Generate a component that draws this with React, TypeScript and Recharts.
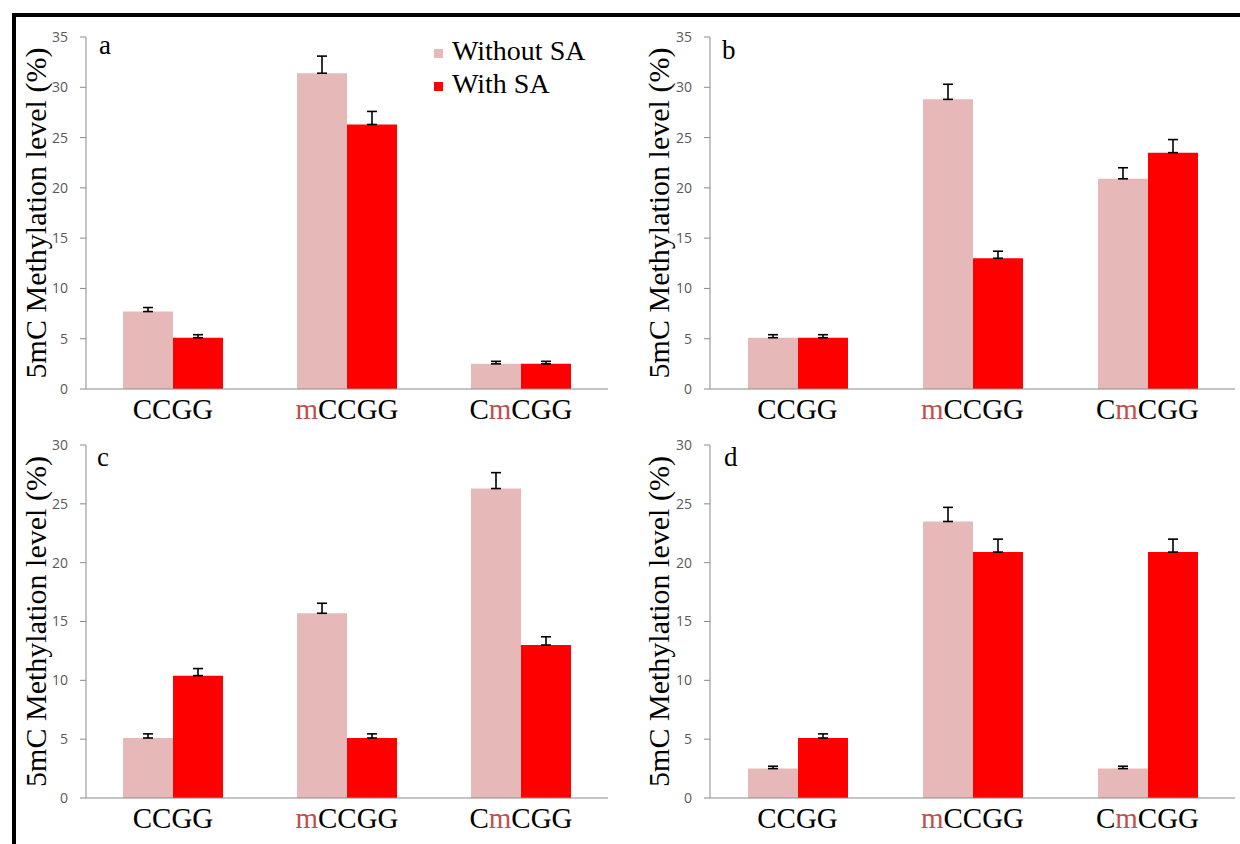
import React from "react";
import { BarChart, Bar, XAxis, YAxis, ErrorBar, Legend } from "recharts";

const categories = ["CCGG", "mCCGG", "CmCGG"];
const seriesNames = ["Without SA", "With SA"];

// panel a
const aWithout = [7.7, 31.4, 2.5];
const aWithoutErr = [0.4, 1.7, 0.25];
const aWith = [5.1, 26.3, 2.5];
const aWithErr = [0.3, 1.3, 0.25];

// panel b
const bWithout = [5.1, 28.8, 20.9];
const bWithoutErr = [0.3, 1.5, 1.1];
const bWith = [5.1, 13.0, 23.5];
const bWithErr = [0.3, 0.7, 1.3];

// panel c
const cWithout = [5.1, 15.7, 26.3];
const cWithoutErr = [0.35, 0.85, 1.35];
const cWith = [10.4, 5.1, 13.0];
const cWithErr = [0.6, 0.35, 0.7];

// panel d
const dWithout = [2.5, 23.5, 2.5];
const dWithoutErr = [0.2, 1.2, 0.2];
const dWith = [5.1, 20.9, 20.9];
const dWithErr = [0.35, 1.1, 1.1];

const ticks35 = [0, 5, 10, 15, 20, 25, 30, 35];
const ticks30 = [0, 5, 10, 15, 20, 25, 30];
const edgeTicks = [0, 1, 2, 3];

const PINK = "#e6b9b8";
const RED = "#ff0000";
const M_RED = "#c0504d";
const AXIS = "#8a8a8a";
const SERIF = "Liberation Serif, Tinos, DejaVu Serif, Noto Serif, serif";
const SANS = "Open Sans, DejaVu Sans, sans-serif";

function buildRows(without: number[], withoutErr: number[], withSA: number[], withErr: number[]) {
  return categories.map((cat, i) => ({
    cat,
    without: without[i],
    withoutErr: [0, withoutErr[i]],
    withSA: withSA[i],
    withErr: [0, withErr[i]],
  }));
}

// split a label so that the lower-case "m" can be coloured
function splitLabel(label: string) {
  const i = label.indexOf("m");
  if (i < 0) return [label];
  return [label.slice(0, i), "m", label.slice(i + 1)].filter((s) => s.length > 0);
}

function CatTick(props: any) {
  const { x, y, payload } = props;
  const parts = splitLabel(String(payload.value));
  return (
    <text x={x} y={y} dy="0.71em" textAnchor="middle" fontSize={29} fontFamily={SERIF} fill="#000">
      {parts.length === 1
        ? parts[0]
        : parts.map((s, i) => (
            <tspan key={i} fill={s === "m" ? M_RED : "#000"}>
              {s}
            </tspan>
          ))}
    </text>
  );
}

function LegendBox(props: any) {
  const payload = [...(props.payload || [])].sort(
    (a: any, b: any) => seriesNames.indexOf(a.value) - seriesNames.indexOf(b.value)
  );
  return (
    <div style={{ fontFamily: SERIF, fontSize: 28, color: "#000" }}>
      {payload.map((p: any) => (
        <div
          key={p.value}
          style={{ position: "relative", height: 33, lineHeight: "33px", paddingLeft: 18, whiteSpace: "nowrap" }}
        >
          <span style={{ position: "absolute", left: 0, top: 15, width: 9, height: 9, background: p.color }} />
          {p.value}
        </div>
      ))}
    </div>
  );
}

type PanelProps = {
  left: number;
  top: number;
  height: number;
  data: any[];
  yMax: number;
  ticks: number[];
  yWidth: number;
  marginTop: number;
  marginRight: number;
  catHeight: number;
  labelX: number;
  letter: string;
  letterLeft: number;
  letterTop: number;
  legend?: boolean;
};

function Panel(p: PanelProps) {
  return (
    <div style={{ position: "absolute", left: p.left, top: p.top, width: 620, height: p.height }}>
      <BarChart
        width={620}
        height={p.height}
        data={p.data}
        margin={{ top: p.marginTop, right: p.marginRight, left: 0, bottom: 0 }}
        barGap={0}
      >
        <XAxis
          xAxisId="edge"
          type="number"
          domain={[0, 3]}
          ticks={edgeTicks}
          tick={false}
          height={0}
          tickSize={6}
          axisLine={{ stroke: AXIS }}
          tickLine={{ stroke: AXIS }}
        />
        <XAxis
          xAxisId="cat"
          dataKey="cat"
          height={p.catHeight}
          axisLine={{ stroke: AXIS }}
          tickLine={false}
          tickMargin={3}
          interval={0}
          tick={<CatTick />}
        />
        <YAxis
          domain={[0, p.yMax]}
          ticks={p.ticks}
          allowDataOverflow
          width={p.yWidth}
          tickSize={6}
          tickMargin={12}
          axisLine={{ stroke: AXIS }}
          tickLine={{ stroke: AXIS }}
          tick={{ fill: "#595959", fontSize: 14, fontFamily: SANS }}
          label={{
            value: "5mC Methylation level (%)",
            angle: -90,
            position: "insideLeft",
            offset: p.labelX,
            dy: 0,
            style: { textAnchor: "middle", fontFamily: SERIF, fontSize: 30, fill: "#000" },
          }}
        />
        {p.legend && (
          <Legend
            layout="vertical"
            align="center"
            verticalAlign="middle"
            content={<LegendBox />}
            wrapperStyle={{ left: 434, top: 34, width: 175 }}
          />
        )}
        <Bar xAxisId="cat" dataKey="without" name="Without SA" fill={PINK} barSize={50} isAnimationActive={false}>
          <ErrorBar dataKey="withoutErr" width={5} stroke="#000" strokeWidth={1.6} />
        </Bar>
        <Bar xAxisId="cat" dataKey="withSA" name="With SA" fill={RED} barSize={50} isAnimationActive={false}>
          <ErrorBar dataKey="withErr" width={5} stroke="#000" strokeWidth={1.6} />
        </Bar>
      </BarChart>
      <div
        style={{
          position: "absolute",
          left: p.letterLeft,
          top: p.letterTop,
          fontFamily: SERIF,
          fontSize: 27,
          lineHeight: "27px",
          color: "#000",
        }}
      >
        {p.letter}
      </div>
    </div>
  );
}

export default function App() {
  return (
    <div style={{ position: "absolute", left: 0, top: 0, width: 1240, height: 844, background: "#fff", overflow: "hidden" }}>
      <div
        style={{
          position: "absolute",
          left: 12,
          top: 13,
          width: 1240,
          height: 840,
          borderTop: "4px solid #000",
          borderLeft: "4px solid #000",
        }}
      />
      <Panel
        left={0}
        top={0}
        height={432}
        data={buildRows(aWithout, aWithoutErr, aWith, aWithErr)}
        yMax={35}
        ticks={ticks35}
        yWidth={86}
        marginTop={37}
        marginRight={12}
        catHeight={43}
        labelX={35}
        letter="a"
        letterLeft={99}
        letterTop={32}
        legend
      />
      <Panel
        left={620}
        top={0}
        height={432}
        data={buildRows(bWithout, bWithoutErr, bWith, bWithErr)}
        yMax={35}
        ticks={ticks35}
        yWidth={90}
        marginTop={37}
        marginRight={5}
        catHeight={43}
        labelX={38}
        letter="b"
        letterLeft={102}
        letterTop={37}
      />
      <Panel
        left={0}
        top={420}
        height={424}
        data={buildRows(cWithout, cWithoutErr, cWith, cWithErr)}
        yMax={30}
        ticks={ticks30}
        yWidth={86}
        marginTop={25}
        marginRight={12}
        catHeight={46}
        labelX={35}
        letter="c"
        letterLeft={97}
        letterTop={24}
      />
      <Panel
        left={620}
        top={420}
        height={424}
        data={buildRows(dWithout, dWithoutErr, dWith, dWithErr)}
        yMax={30}
        ticks={ticks30}
        yWidth={90}
        marginTop={25}
        marginRight={5}
        catHeight={46}
        labelX={38}
        letter="d"
        letterLeft={104}
        letterTop={24}
      />
    </div>
  );
}
